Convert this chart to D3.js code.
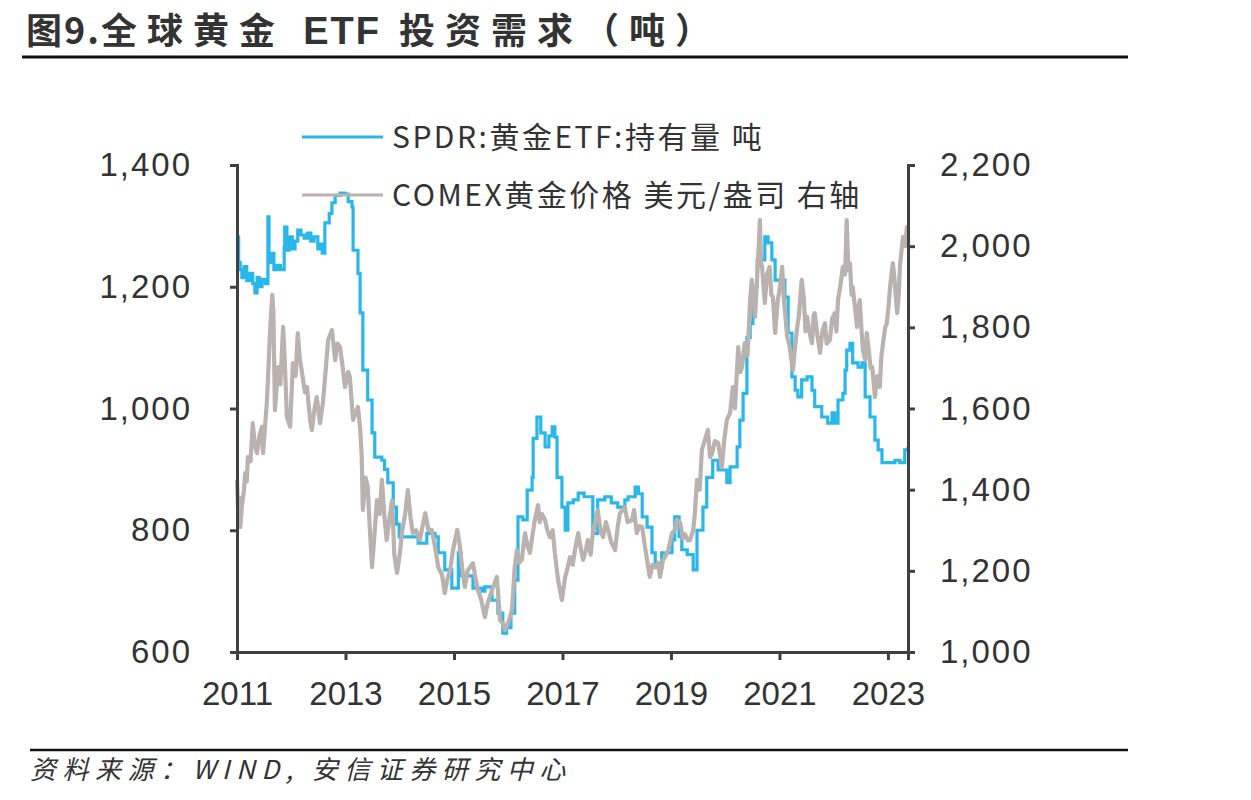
<!DOCTYPE html>
<html>
<head>
<meta charset="utf-8">
<script src="https://cdn.jsdelivr.net/npm/d3@7"></script>
<style>
  body { margin: 0; background: #fff; }
  svg { display: block; }
</style>
</head>
<body>
<svg width="1251" height="800"></svg>
<script>
// SPDR gold holdings, tonnes (left axis) - [decimal year, value]
const spdrData = [
  [2011.00,1282],[2011.03,1240],[2011.06,1228],[2011.09,1215],[2011.13,1233],[2011.18,1210],[2011.24,1222],
  [2011.29,1205],[2011.33,1190],[2011.37,1215],[2011.41,1200],[2011.46,1212],[2011.52,1205],[2011.57,1315],
  [2011.59,1240],[2011.63,1255],[2011.68,1228],[2011.74,1235],[2011.80,1228],[2011.87,1265],[2011.88,1298],
  [2011.92,1260],[2011.96,1282],[2012.02,1262],[2012.07,1275],[2012.12,1293],[2012.18,1285],[2012.24,1280],
  [2012.30,1288],[2012.36,1275],[2012.42,1282],[2012.49,1262],[2012.53,1270],[2012.57,1255],[2012.62,1305],
  [2012.70,1320],[2012.75,1338],[2012.81,1350],[2012.90,1354],[2012.99,1352],[2013.05,1340],[2013.12,1331],
  [2013.14,1260],[2013.23,1222],[2013.27,1157],[2013.32,1063],[2013.41,1014],[2013.49,960],[2013.54,920],
  [2013.67,915],[2013.72,900],[2013.78,878],[2013.88,838],[2013.94,810],[2013.99,789],[2014.25,789],
  [2014.34,779],[2014.50,795],[2014.65,789],[2014.71,763],[2014.83,735],[2014.96,705],[2015.08,763],
  [2015.13,725],[2015.35,705],[2015.52,700],[2015.57,707],[2015.70,685],[2015.81,664],[2015.90,631],
  [2015.97,640],[2016.05,664],[2016.12,718],[2016.18,822],[2016.27,817],[2016.35,866],[2016.44,887],
  [2016.46,951],[2016.53,986],[2016.60,960],[2016.68,937],[2016.75,955],[2016.81,970],[2016.86,953],
  [2016.90,887],[2016.99,838],[2017.05,800],[2017.10,845],[2017.20,850],[2017.29,861],[2017.40,855],
  [2017.50,855],[2017.56,795],[2017.65,850],[2017.78,855],[2017.90,845],[2018.02,838],[2018.15,850],
  [2018.21,855],[2018.34,871],[2018.40,860],[2018.47,822],[2018.56,805],[2018.65,763],[2018.71,740],
  [2018.83,763],[2019.02,784],[2019.07,822],[2019.15,790],[2019.20,768],[2019.30,760],[2019.41,735],
  [2019.48,800],[2019.59,838],[2019.66,887],[2019.77,915],[2019.87,899],[2020.03,878],[2020.09,904],
  [2020.22,937],[2020.27,981],[2020.33,1025],[2020.40,1117],[2020.46,1140],[2020.51,1200],[2020.59,1244],
  [2020.73,1282],[2020.79,1272],[2020.86,1244],[2020.92,1211],[2021.10,1183],[2021.16,1124],[2021.23,1052],
  [2021.29,1030],[2021.34,1019],[2021.41,1047],[2021.51,1052],[2021.60,1030],[2021.65,1003],[2021.78,986],
  [2021.89,976],[2021.97,993],[2022.02,976],[2022.08,1014],[2022.17,1025],[2022.21,1063],[2022.24,1096],
  [2022.30,1107],[2022.35,1075],[2022.45,1068],[2022.52,1075],[2022.58,1019],[2022.67,986],[2022.76,948],
  [2022.82,932],[2022.89,911],[2023.00,911],[2023.13,915],[2023.22,911],[2023.31,932],[2023.37,937]
];

// COMEX gold price, USD/oz (right axis) - [decimal year, value]
const comexData = [
  [2011.00,1424],[2011.02,1350],[2011.04,1380],[2011.06,1308],[2011.09,1360],[2011.13,1400],[2011.15,1441],
  [2011.18,1420],[2011.20,1480],[2011.25,1470],[2011.29,1564],[2011.33,1510],[2011.37,1490],[2011.41,1530],
  [2011.46,1555],[2011.48,1490],[2011.53,1580],[2011.55,1613],[2011.58,1700],[2011.61,1793],[2011.65,1880],
  [2011.67,1840],[2011.70,1596],[2011.73,1650],[2011.76,1702],[2011.80,1660],[2011.85,1801],[2011.88,1720],
  [2011.92,1579],[2011.98,1555],[2012.03,1712],[2012.08,1680],[2012.12,1786],[2012.16,1720],[2012.20,1687],
  [2012.25,1640],[2012.29,1653],[2012.35,1570],[2012.38,1547],[2012.43,1600],[2012.47,1628],[2012.53,1564],
  [2012.58,1610],[2012.62,1670],[2012.68,1769],[2012.75,1793],[2012.81,1719],[2012.85,1760],[2012.90,1751],
  [2012.95,1700],[2012.99,1653],[2013.05,1690],[2013.08,1678],[2013.14,1572],[2013.23,1604],[2013.27,1550],
  [2013.30,1480],[2013.32,1350],[2013.37,1430],[2013.41,1407],[2013.45,1300],[2013.49,1209],[2013.54,1300],
  [2013.58,1374],[2013.63,1340],[2013.67,1424],[2013.72,1330],[2013.76,1276],[2013.80,1320],[2013.86,1374],
  [2013.90,1240],[2013.95,1195],[2014.00,1240],[2014.04,1293],[2014.10,1340],[2014.15,1399],[2014.20,1330],
  [2014.24,1293],[2014.30,1300],[2014.37,1276],[2014.42,1310],[2014.47,1342],[2014.53,1300],[2014.59,1301],
  [2014.65,1260],[2014.71,1209],[2014.78,1190],[2014.83,1145],[2014.88,1180],[2014.93,1202],[2014.98,1250],
  [2015.06,1301],[2015.10,1270],[2015.15,1209],[2015.20,1160],[2015.25,1200],[2015.30,1210],[2015.35,1219],
  [2015.40,1180],[2015.44,1153],[2015.50,1130],[2015.57,1086],[2015.62,1120],[2015.70,1153],[2015.75,1170],
  [2015.79,1185],[2015.85,1079],[2015.90,1070],[2015.94,1054],[2016.02,1080],[2016.07,1104],[2016.12,1209],
  [2016.16,1251],[2016.20,1220],[2016.25,1227],[2016.31,1293],[2016.36,1260],[2016.40,1244],[2016.45,1290],
  [2016.49,1325],[2016.55,1362],[2016.58,1320],[2016.62,1340],[2016.68,1325],[2016.72,1300],[2016.77,1283],
  [2016.82,1300],[2016.86,1244],[2016.92,1177],[2016.99,1128],[2017.05,1185],[2017.10,1210],[2017.14,1234],
  [2017.19,1215],[2017.23,1251],[2017.29,1293],[2017.33,1260],[2017.38,1227],[2017.43,1250],[2017.47,1276],
  [2017.52,1240],[2017.56,1293],[2017.65,1350],[2017.70,1300],[2017.75,1283],[2017.80,1320],[2017.84,1301],
  [2017.90,1270],[2017.97,1251],[2018.02,1310],[2018.06,1342],[2018.15,1357],[2018.20,1320],[2018.28,1325],
  [2018.32,1350],[2018.37,1293],[2018.42,1310],[2018.47,1308],[2018.52,1260],[2018.56,1227],[2018.61,1185],
  [2018.66,1215],[2018.71,1209],[2018.76,1220],[2018.80,1185],[2018.85,1225],[2018.89,1234],[2018.95,1250],
  [2019.02,1293],[2019.07,1300],[2019.11,1325],[2019.17,1318],[2019.22,1280],[2019.26,1290],[2019.31,1275],
  [2019.35,1275],[2019.41,1300],[2019.44,1340],[2019.48,1424],[2019.53,1400],[2019.57,1498],[2019.62,1520],
  [2019.68,1547],[2019.72,1480],[2019.76,1490],[2019.81,1520],[2019.87,1515],[2019.94,1456],[2019.98,1520],
  [2020.03,1572],[2020.09,1589],[2020.14,1653],[2020.18,1600],[2020.24,1751],[2020.28,1690],[2020.31,1702],
  [2020.36,1761],[2020.41,1730],[2020.46,1867],[2020.49,1917],[2020.55,1826],[2020.60,1949],[2020.64,2064],
  [2020.66,1960],[2020.68,1949],[2020.73,1860],[2020.77,1930],[2020.82,1949],[2020.85,1880],[2020.88,1875],
  [2020.92,1786],[2020.97,1867],[2021.01,1900],[2021.05,1949],[2021.08,1870],[2021.10,1843],[2021.14,1780],
  [2021.19,1751],[2021.22,1720],[2021.25,1695],[2021.28,1740],[2021.32,1793],[2021.36,1830],[2021.41,1917],
  [2021.45,1870],[2021.48,1790],[2021.51,1826],[2021.55,1790],[2021.60,1761],[2021.63,1830],[2021.65,1835],
  [2021.70,1780],[2021.75,1737],[2021.79,1790],[2021.84,1810],[2021.87,1760],[2021.93,1769],[2021.97,1820],
  [2022.02,1835],[2022.05,1790],[2022.08,1867],[2022.12,1900],[2022.17,1949],[2022.21,1930],[2022.24,2064],
  [2022.27,1940],[2022.30,1958],[2022.33,1880],[2022.35,1900],[2022.40,1840],[2022.43,1801],[2022.46,1850],
  [2022.48,1867],[2022.51,1800],[2022.54,1744],[2022.58,1720],[2022.61,1786],[2022.65,1740],[2022.68,1700],
  [2022.71,1702],[2022.74,1660],[2022.76,1628],[2022.80,1680],[2022.85,1653],[2022.88,1730],[2022.91,1761],
  [2022.95,1800],[2022.98,1810],[2023.01,1850],[2023.04,1900],[2023.09,1958],[2023.12,1920],[2023.17,1835],
  [2023.20,1880],[2023.22,1949],[2023.25,1990],[2023.28,2023],[2023.32,2000],[2023.35,2047],[2023.37,2030]
];

const xTicks = [2011, 2013, 2015, 2017, 2019, 2021, 2023];
const leftTicks = [600, 800, 1000, 1200, 1400];
const rightTicks = [1000, 1200, 1400, 1600, 1800, 2000, 2200];
const seriesNames = ["SPDR:黄金ETF:持有量 吨", "COMEX黄金价格 美元/盎司 右轴"];

const svg = d3.select("svg");
const axisColor = "#404040";
const textColor = "#333";
const blue = "#29b7e9";
const grey = "#b9b2af";

const plot = {left: 237, right: 908, top: 165, bottom: 652};
const cjkFont = "'Noto Sans CJK SC', sans-serif";

// title, split so the latin part is not spread out
const title = svg.append("text")
    .attr("x", 26)
    .attr("y", 44)
    .style("font-family", cjkFont)
    .style("font-weight", "700")
    .style("font-size", "36px")
    .attr("fill", textColor);
title.append("tspan").style("letter-spacing", "2px").text("图9.");
title.append("tspan").style("letter-spacing", "10px").text("全球黄金 ");
title.append("tspan")
    .style("font-family", "'Liberation Sans', Arial, sans-serif")
    .style("font-size", "38px")
    .style("letter-spacing", "2px")
    .text("ETF");
title.append("tspan").style("letter-spacing", "10px").text(" 投资需求（吨）");

svg.append("line")
    .attr("x1", 22).attr("x2", 1128)
    .attr("y1", 57).attr("y2", 57)
    .attr("stroke", "#111")
    .attr("stroke-width", 3);

// footer
svg.append("line")
    .attr("x1", 30).attr("x2", 1128)
    .attr("y1", 750).attr("y2", 750)
    .attr("stroke", "#111")
    .attr("stroke-width", 2.5);

svg.append("text")
    .attr("x", 30)
    .attr("y", 779)
    .style("font-family", cjkFont)
    .style("font-style", "italic")
    .style("font-size", "26px")
    .style("letter-spacing", "6.5px")
    .attr("fill", textColor)
    .text("资料来源：WIND, 安信证券研究中心");

// scales
const x = d3.scaleLinear()
    .domain([2011, 2023.37])
    .range([plot.left, plot.right]);

const yLeft = d3.scaleLinear()
    .domain([600, 1400])
    .range([plot.bottom, plot.top]);

const yRight = d3.scaleLinear()
    .domain([1000, 2200])
    .range([plot.bottom, plot.top]);

// lines
const spdrLine = d3.line()
    .x(d => x(d[0]))
    .y(d => yLeft(d[1]))
    .curve(d3.curveStepAfter);

const comexLine = d3.line()
    .x(d => x(d[0]))
    .y(d => yRight(d[1]));

svg.append("path")
    .datum(spdrData)
    .attr("fill", "none")
    .attr("stroke", blue)
    .attr("stroke-width", 3.2)
    .attr("d", spdrLine);

svg.append("path")
    .datum(comexData)
    .attr("fill", "none")
    .attr("stroke", grey)
    .attr("stroke-width", 4.2)
    .attr("stroke-linejoin", "round")
    .attr("d", comexLine);

// axes
function styleAxis(g) {
    g.select(".domain").attr("stroke", axisColor).attr("stroke-width", 3);
    g.selectAll(".tick line").attr("stroke", axisColor).attr("stroke-width", 3);
    g.selectAll(".tick text")
        .attr("fill", textColor)
        .style("font-family", "'Liberation Sans', Arial, sans-serif")
        .style("font-size", "33px")
        .style("letter-spacing", "2px");
}

const gx = svg.append("g")
    .attr("transform", `translate(0,${plot.bottom})`)
    .call(d3.axisBottom(x).tickValues(xTicks).tickFormat(d3.format("d")).tickSizeOuter(0).tickSize(8).tickPadding(22));
styleAxis(gx);
gx.selectAll(".tick text").style("letter-spacing", "0px");

const gl = svg.append("g")
    .attr("transform", `translate(${plot.left},0)`)
    .call(d3.axisLeft(yLeft).tickValues(leftTicks).tickFormat(d3.format(",")).tickSizeOuter(0).tickSize(7).tickPadding(38));
styleAxis(gl);

const gr = svg.append("g")
    .attr("transform", `translate(${plot.right},0)`)
    .call(d3.axisRight(yRight).tickValues(rightTicks).tickFormat(d3.format(",")).tickSizeOuter(0).tickSize(7).tickPadding(25));
styleAxis(gr);

// legend
const legend = svg.append("g");
const legendColors = [blue, grey];
seriesNames.forEach((name, i) => {
    const yy = 137 + i * 58;
    legend.append("line")
        .attr("x1", 302).attr("x2", 383)
        .attr("y1", yy).attr("y2", yy)
        .attr("stroke", legendColors[i])
        .attr("stroke-width", 3);
    legend.append("text")
        .attr("x", 392)
        .attr("y", yy)
        .attr("dy", "0.35em")
        .style("font-family", cjkFont)
        .style("font-size", "30px")
        .style("letter-spacing", "2.5px")
        .attr("fill", textColor)
        .text(name);
});
</script>
</body>
</html>
